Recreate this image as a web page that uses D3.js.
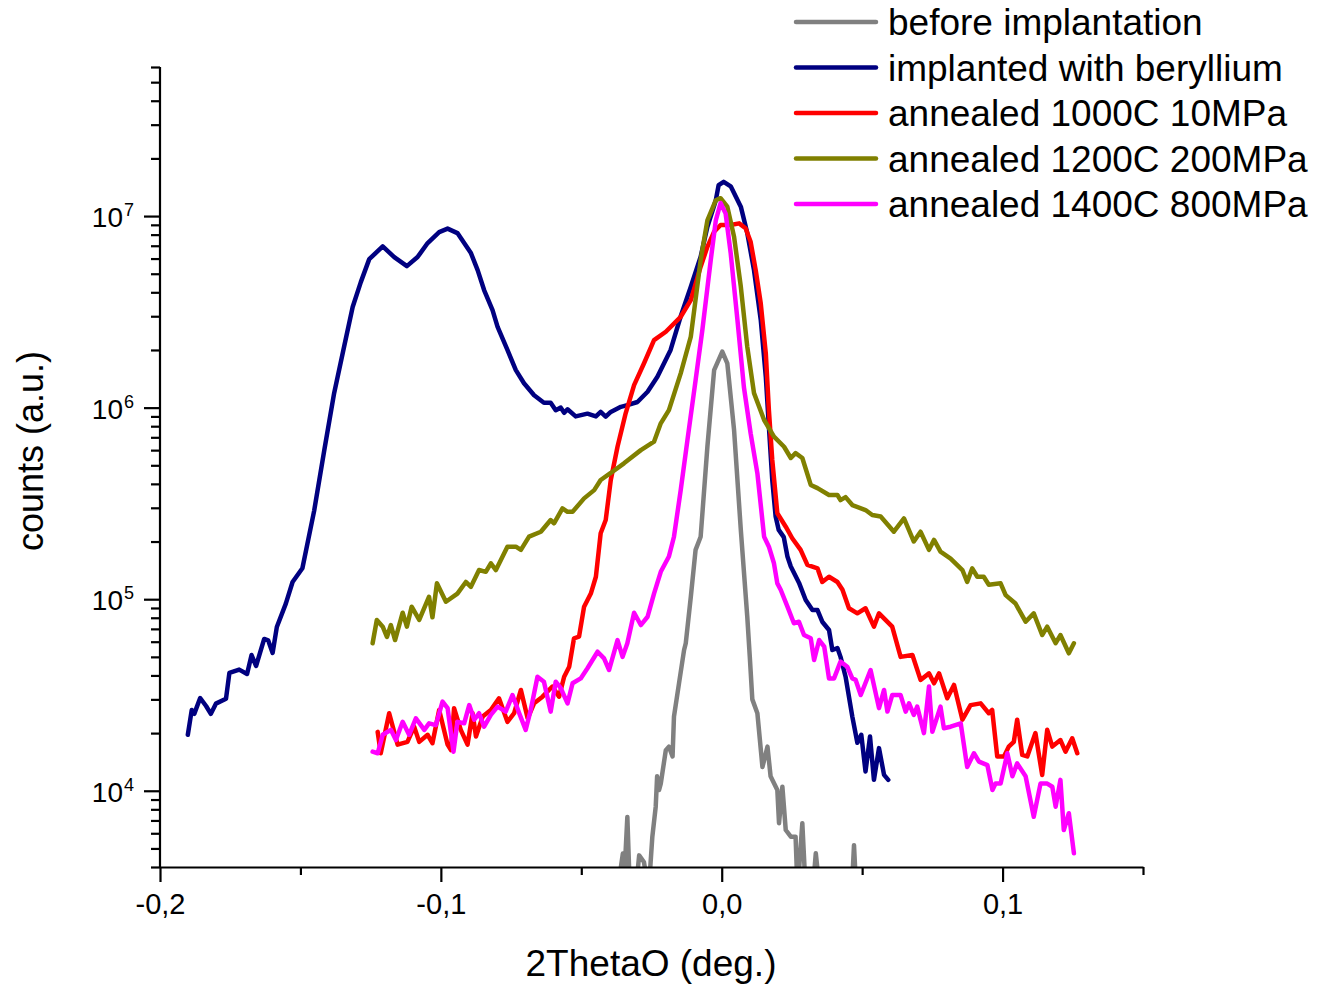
<!DOCTYPE html>
<html>
<head>
<meta charset="utf-8">
<script src="https://cdn.jsdelivr.net/npm/d3@7"></script>
<style>
  body { margin: 0; background: #fff; }
  text { font-family: Arial, "Liberation Sans", sans-serif; fill: #000; }
</style>
</head>
<body>
<div id="chart"></div>
<script>
// series: [2ThetaO (deg.), counts]
const beforeImpl = [
  [-0.0370, 2000], [-0.0359, 4000], [-0.0352, 4700], [-0.0345, 4000], [-0.0336, 7300], [-0.0327, 3000],
  [-0.0306, 3000], [-0.0294, 4600], [-0.0277, 4250], [-0.0260, 3000], [-0.0247, 5760], [-0.0235, 8260],
  [-0.0230, 11900], [-0.0223, 10100], [-0.0217, 10900], [-0.0199, 16300], [-0.0188, 17000], [-0.0175, 15100],
  [-0.0170, 24400], [-0.0152, 36400], [-0.0134, 54300], [-0.0128, 58900], [-0.0110, 1.03e5], [-0.0093, 1.81e5],
  [-0.0075, 2.12e5], [-0.0051, 6.25e5], [-0.0027, 1.57e6], [0.0002, 1.96e6], [0.0020, 1.7e6], [0.0044, 7.64e5],
  [0.0068, 2.3e5], [0.0091, 81000], [0.0100, 50000], [0.0109, 30000], [0.0127, 25400], [0.0145, 13300],
  [0.0163, 17000], [0.0174, 11900], [0.0198, 10100], [0.0204, 6770], [0.0216, 10500], [0.0228, 6240],
  [0.0246, 5760], [0.0263, 5760], [0.0270, 3000], [0.0287, 6770], [0.0299, 3000], [0.0324, 3000],
  [0.0335, 4720], [0.0349, 3000], [0.0463, 3000], [0.0471, 5200], [0.0479, 3000], [0.0600, 3000]
]

const implanted = [
  [-0.1901, 19600], [-0.1887, 26400], [-0.1878, 25200], [-0.1857, 30500], [-0.1836, 27700], [-0.1819, 25200],
  [-0.1801, 28500], [-0.1765, 30200], [-0.1753, 41200], [-0.1718, 42900], [-0.1690, 40700], [-0.1674, 51100],
  [-0.1658, 44800], [-0.1629, 62000], [-0.1615, 61000], [-0.1599, 52400], [-0.1584, 71600], [-0.1552, 94800],
  [-0.1528, 1.23e5], [-0.1493, 1.45e5], [-0.1451, 2.9e5], [-0.1415, 6.0e5], [-0.1380, 1.19e6], [-0.1344, 2.1e6],
  [-0.1314, 3.35e6], [-0.1285, 4.52e6], [-0.1255, 5.96e6], [-0.1207, 6.94e6], [-0.1166, 6.11e6], [-0.1121, 5.48e6],
  [-0.1083, 6.11e6], [-0.1047, 7.23e6], [-0.1006, 8.25e6], [-0.0976, 8.6e6], [-0.0941, 8.15e6], [-0.0893, 6.41e6],
  [-0.0869, 5.22e6], [-0.0846, 4.11e6], [-0.0816, 3.23e6], [-0.0798, 2.64e6], [-0.0763, 2.0e6], [-0.0733, 1.57e6],
  [-0.0704, 1.34e6], [-0.0668, 1.16e6], [-0.0633, 1.06e6], [-0.0609, 1.06e6], [-0.0591, 9.7e5], [-0.0573, 1.0e6],
  [-0.0561, 9.4e5], [-0.0549, 9.8e5], [-0.0520, 9.0e5], [-0.0478, 9.3e5], [-0.0448, 9.0e5], [-0.0431, 9.5e5],
  [-0.0413, 8.97e5], [-0.0395, 9.5e5], [-0.0359, 1.01e6], [-0.0336, 1.03e6], [-0.0300, 1.07e6], [-0.0264, 1.21e6],
  [-0.0229, 1.45e6], [-0.0182, 2.0e6], [-0.0146, 3.0e6], [-0.0110, 4.28e6], [-0.0075, 6.13e6], [-0.0051, 8.8e6],
  [-0.0021, 1.21e7], [-0.0011, 1.45e7], [0.0007, 1.51e7], [0.0032, 1.43e7], [0.0068, 1.12e7], [0.0091, 8.15e6],
  [0.0115, 5.22e6], [0.0139, 2.87e6], [0.0157, 1.45e6], [0.0168, 7.95e5], [0.0180, 4.19e5], [0.0192, 2.7e5],
  [0.0203, 2.3e5], [0.0221, 2.11e5], [0.0234, 1.67e5], [0.0246, 1.48e5], [0.0275, 1.22e5], [0.0299, 99000],
  [0.0323, 87800], [0.0341, 87800], [0.0358, 76300], [0.0382, 69100], [0.0394, 54300], [0.0412, 55600],
  [0.0423, 50000], [0.0441, 39400], [0.0465, 24400], [0.0483, 17800], [0.0497, 19600], [0.0512, 12600],
  [0.0528, 19200], [0.0542, 11400], [0.0560, 16700], [0.0578, 12100], [0.0593, 11400]
]

const annealed1000 = [
  [-0.1225, 20300], [-0.1214, 15700], [-0.1184, 25400], [-0.1154, 17400], [-0.1119, 18000], [-0.1095, 21600],
  [-0.1077, 18000], [-0.1047, 19600], [-0.1030, 17700], [-0.1006, 26400], [-0.0976, 17400], [-0.0964, 16300],
  [-0.0953, 27000], [-0.0929, 20800], [-0.0905, 17400], [-0.0887, 25400], [-0.0875, 19200], [-0.0851, 24400],
  [-0.0822, 26400], [-0.0793, 30400], [-0.0763, 22900], [-0.0739, 25400], [-0.0715, 33600], [-0.0691, 23900],
  [-0.0668, 28600], [-0.0638, 31000], [-0.0603, 35000], [-0.0579, 31000], [-0.0561, 39400], [-0.0543, 44400],
  [-0.0526, 62500], [-0.0508, 63700], [-0.0490, 91400], [-0.0466, 1.07e5], [-0.0448, 1.31e5], [-0.0431, 2.21e5],
  [-0.0413, 2.59e5], [-0.0395, 4.19e5], [-0.0371, 6.25e5], [-0.0342, 9.34e5], [-0.0312, 1.31e6], [-0.0277, 1.7e6],
  [-0.0241, 2.25e6], [-0.0199, 2.49e6], [-0.0146, 2.98e6], [-0.0110, 3.64e6], [-0.0075, 5.44e6], [-0.0051, 6.91e6],
  [-0.0027, 8.28e6], [-0.0004, 8.98e6], [0.0032, 8.98e6], [0.0062, 9.16e6], [0.0085, 8.63e6], [0.0103, 7.34e6],
  [0.0121, 5.22e6], [0.0139, 3.5e6], [0.0157, 1.92e6], [0.0168, 9.7e5], [0.0180, 5.33e5], [0.0198, 2.81e5],
  [0.0228, 2.39e5], [0.0251, 2.08e5], [0.0281, 1.81e5], [0.0305, 1.51e5], [0.0341, 1.45e5], [0.0358, 1.23e5],
  [0.0382, 1.31e5], [0.0412, 1.23e5], [0.0430, 1.12e5], [0.0453, 89700], [0.0483, 84400], [0.0512, 89700],
  [0.0542, 71900], [0.0560, 84400], [0.0607, 71900], [0.0637, 50000], [0.0679, 51100], [0.0708, 37900],
  [0.0738, 41000], [0.0756, 36400], [0.0774, 41000], [0.0803, 30400], [0.0827, 35700], [0.0857, 23500],
  [0.0886, 28000], [0.0922, 28600], [0.0951, 25400], [0.0963, 26400], [0.0981, 15100], [0.1005, 15100],
  [0.1022, 17000], [0.1040, 18000], [0.1052, 23500], [0.1070, 15400], [0.1088, 15100], [0.1117, 20000],
  [0.1141, 12100], [0.1159, 20800], [0.1177, 17000], [0.1206, 18400], [0.1224, 16000], [0.1248, 18800],
  [0.1266, 15700]
]

const annealed1200 = [
  [-0.1243, 58900], [-0.1228, 77900], [-0.1207, 71900], [-0.1192, 63500], [-0.1178, 73300], [-0.1163, 61200],
  [-0.1136, 85000], [-0.1121, 71900], [-0.1104, 91400], [-0.1077, 77900], [-0.1042, 1.03e5], [-0.1030, 80400],
  [-0.1014, 1.21e5], [-0.0982, 97000], [-0.0941, 1.07e5], [-0.0911, 1.23e5], [-0.0893, 1.16e5], [-0.0864, 1.42e5],
  [-0.0840, 1.39e5], [-0.0822, 1.54e5], [-0.0804, 1.42e5], [-0.0763, 1.88e5], [-0.0733, 1.88e5], [-0.0715, 1.81e5],
  [-0.0686, 2.12e5], [-0.0644, 2.25e5], [-0.0609, 2.59e5], [-0.0597, 2.49e5], [-0.0567, 2.98e5], [-0.0549, 2.86e5],
  [-0.0531, 2.86e5], [-0.0490, 3.36e5], [-0.0454, 3.71e5], [-0.0431, 4.19e5], [-0.0395, 4.56e5], [-0.0348, 5.12e5],
  [-0.0288, 6.0e5], [-0.0241, 6.64e5], [-0.0217, 8.28e5], [-0.0188, 9.7e5], [-0.0146, 1.51e6], [-0.0110, 2.35e6],
  [-0.0075, 5.9e6], [-0.0051, 9.5e6], [-0.0021, 1.21e7], [-0.0004, 1.24e7], [0.0020, 1.12e7], [0.0044, 7.8e6],
  [0.0068, 4.28e6], [0.0091, 2.08e6], [0.0115, 1.19e6], [0.0151, 8.62e5], [0.0186, 7.05e5], [0.0222, 6.25e5],
  [0.0246, 5.46e5], [0.0263, 5.79e5], [0.0287, 5.46e5], [0.0317, 3.95e5], [0.0341, 3.8e5], [0.0382, 3.5e5],
  [0.0412, 3.5e5], [0.0423, 3.29e5], [0.0441, 3.41e5], [0.0465, 3.1e5], [0.0512, 2.92e5], [0.0536, 2.75e5],
  [0.0566, 2.7e5], [0.0613, 2.25e5], [0.0649, 2.64e5], [0.0684, 2.0e5], [0.0708, 2.25e5], [0.0738, 1.81e5],
  [0.0756, 2.04e5], [0.0779, 1.77e5], [0.0815, 1.63e5], [0.0857, 1.42e5], [0.0874, 1.23e5], [0.0892, 1.45e5],
  [0.0910, 1.31e5], [0.0933, 1.31e5], [0.0951, 1.19e5], [0.0993, 1.21e5], [0.1011, 1.05e5], [0.1046, 95000],
  [0.1082, 76300], [0.1111, 84400], [0.1141, 65000], [0.1159, 71900], [0.1189, 58900], [0.1206, 65000],
  [0.1236, 52200], [0.1254, 58900]
]

const annealed1400 = [
  [-0.1243, 16000], [-0.1225, 15700], [-0.1207, 19600], [-0.1178, 20800], [-0.1160, 18400], [-0.1136, 22900],
  [-0.1113, 19600], [-0.1089, 23900], [-0.1059, 20800], [-0.1042, 22500], [-0.1018, 22000], [-0.0994, 29200],
  [-0.0976, 27000], [-0.0955, 16000], [-0.0941, 22900], [-0.0917, 22500], [-0.0899, 28000], [-0.0881, 23500],
  [-0.0864, 25400], [-0.0846, 21600], [-0.0822, 24900], [-0.0798, 27500], [-0.0769, 25900], [-0.0745, 31600],
  [-0.0721, 25400], [-0.0698, 20800], [-0.0680, 26400], [-0.0656, 39400], [-0.0633, 37100], [-0.0609, 25900],
  [-0.0591, 37100], [-0.0573, 34300], [-0.0549, 28600], [-0.0531, 36400], [-0.0502, 38600], [-0.0478, 43600],
  [-0.0442, 53200], [-0.0419, 49100], [-0.0401, 42700], [-0.0371, 61200], [-0.0353, 50000], [-0.0336, 58900],
  [-0.0312, 85000], [-0.0288, 73300], [-0.0264, 81000], [-0.0241, 1.07e5], [-0.0217, 1.39e5], [-0.0188, 1.67e5],
  [-0.0170, 2.12e5], [-0.0146, 3.71e5], [-0.0122, 6.78e5], [-0.0093, 1.39e6], [-0.0069, 2.54e6], [-0.0039, 5.9e6],
  [-0.0021, 9.5e6], [-0.0004, 1.17e7], [0.0014, 1.03e7], [0.0032, 6.39e6], [0.0056, 2.87e6], [0.0079, 1.28e6],
  [0.0103, 7.34e5], [0.0127, 4.54e5], [0.0151, 2.12e5], [0.0168, 1.88e5], [0.0186, 1.54e5], [0.0198, 1.21e5],
  [0.0210, 1.12e5], [0.0234, 91400], [0.0257, 74900], [0.0275, 76300], [0.0293, 65000], [0.0317, 62500],
  [0.0329, 48200], [0.0347, 61200], [0.0365, 56500], [0.0382, 38600], [0.0400, 38600], [0.0423, 47200],
  [0.0447, 44400], [0.0465, 38600], [0.0477, 37900], [0.0495, 31600], [0.0530, 42700], [0.0560, 27000],
  [0.0578, 33600], [0.0590, 25900], [0.0607, 31600], [0.0637, 31600], [0.0655, 25900], [0.0667, 28600],
  [0.0684, 24900], [0.0696, 27500], [0.0720, 20000], [0.0738, 35000], [0.0750, 20300], [0.0779, 27500],
  [0.0791, 21200], [0.0815, 21600], [0.0851, 22500], [0.0874, 13300], [0.0898, 15700], [0.0916, 14200],
  [0.0946, 13600], [0.0964, 10100], [0.0975, 10900], [0.0993, 10900], [0.1017, 15700], [0.1035, 11900],
  [0.1052, 13900], [0.1082, 11900], [0.1111, 7320], [0.1135, 10900], [0.1159, 10900], [0.1177, 10500],
  [0.1189, 8260], [0.1206, 11400], [0.1218, 6240], [0.1236, 7630], [0.1254, 4720]
]

const seriesNames = ['before implantation', 'implanted with beryllium', 'annealed 1000C 10MPa',
  'annealed 1200C 200MPa', 'annealed 1400C 800MPa']
const seriesColors = ['#808080', '#000080', '#ff0000', '#808000', '#ff00ff']
const seriesData = [beforeImpl, implanted, annealed1000, annealed1200, annealed1400]

const xMajor = [-0.2, -0.1, 0.0, 0.1]
const xMinor = [-0.15, -0.05, 0.05, 0.15]
const yMajor = [1e4, 1e5, 1e6, 1e7]
const yExp = [4, 5, 6, 7]

const width = 1317,
  height = 985,
  plotLeft = 160, plotRight = 1143,
  plotTop = 67, plotBottom = 867

const svg = d3.select('#chart')
  .append('svg')
  .attr('width', width)
  .attr('height', height)
  .style('background', '#fff')

const x = d3.scaleLinear().domain([-0.2, 0.15]).range([plotLeft, plotRight])
const y = d3.scaleLog().domain([4000, 6e7]).range([plotBottom, plotTop])

// minor ticks for the log axis: 2..9 of each decade inside the domain
const yMinor = []
for (let e = 3; e <= 7; e++) {
  for (let k = 2; k <= 9; k++) {
    const v = k * Math.pow(10, e)
    if (v >= 4000 && v <= 6e7) yMinor.push(v)
  }
}

svg.append('clipPath').attr('id', 'plotClip')
  .append('rect')
  .attr('x', plotLeft).attr('y', plotTop)
  .attr('width', plotRight - plotLeft).attr('height', plotBottom - plotTop)

const line = d3.line()
  .x(d => x(d[0]))
  .y(d => y(d[1]))

const plot = svg.append('g').attr('clip-path', 'url(#plotClip)')
seriesData.forEach((data, i) => {
  plot.append('path')
    .datum(data)
    .attr('d', line)
    .attr('fill', 'none')
    .attr('stroke', seriesColors[i])
    .attr('stroke-width', 4.5)
    .attr('stroke-linejoin', 'round')
    .attr('stroke-linecap', 'round')
})

// axes
const styleAxis = g => {
  g.select('.domain').attr('stroke', '#000').attr('stroke-width', 2.2)
  g.selectAll('.tick line').attr('stroke', '#000').attr('stroke-width', 2.2)
}

svg.append('g')
  .attr('transform', `translate(0,${plotBottom})`)
  .call(d3.axisBottom(x).tickValues(xMinor).tickSize(8).tickSizeOuter(0).tickFormat(''))
  .call(styleAxis)

svg.append('g')
  .attr('transform', `translate(0,${plotBottom})`)
  .call(d3.axisBottom(x).tickValues(xMajor).tickSize(15).tickSizeOuter(0)
    .tickFormat(d => d.toFixed(1).replace('.', ',')))
  .call(styleAxis)
  .call(g => g.select('.domain').remove())
  .call(g => g.selectAll('.tick text')
    .attr('y', 26).attr('dy', '0.71em')
    .style('font-size', '29px')
    .style('font-family', 'Arial, "Liberation Sans", sans-serif'))

svg.append('g')
  .attr('transform', `translate(${plotLeft},0)`)
  .call(d3.axisLeft(y).tickValues(yMinor).tickSize(9).tickSizeOuter(0).tickFormat(''))
  .call(styleAxis)
  .call(g => g.select('.domain').attr('d', `M0,${plotBottom}V${plotTop}`))

svg.append('g')
  .attr('transform', `translate(${plotLeft},0)`)
  .call(d3.axisLeft(y).tickValues(yMajor).tickSize(16).tickSizeOuter(0).tickFormat(''))
  .call(styleAxis)
  .call(g => g.select('.domain').remove())

// 10^n labels
yMajor.forEach((v, i) => {
  const ty = y(v)
  svg.append('text')
    .attr('x', 123).attr('y', ty + 11)
    .attr('text-anchor', 'end')
    .style('font-size', '28px')
    .text('10')
  svg.append('text')
    .attr('x', 124).attr('y', ty)
    .style('font-size', '18px')
    .text(yExp[i])
})

// axis titles
svg.append('text')
  .attr('x', 651).attr('y', 976)
  .attr('text-anchor', 'middle')
  .style('font-size', '37px')
  .text('2ThetaO (deg.)')

svg.append('text')
  .attr('transform', 'translate(43,451) rotate(-90)')
  .attr('text-anchor', 'middle')
  .style('font-size', '36px')
  .text('counts (a.u.)')

// legend
const legend = svg.append('g')
seriesNames.forEach((name, i) => {
  const ly = 22 + i * 45.5
  legend.append('line')
    .attr('x1', 796).attr('x2', 876)
    .attr('y1', ly).attr('y2', ly)
    .attr('stroke', seriesColors[i])
    .attr('stroke-width', 4.5)
    .attr('stroke-linecap', 'round')
  legend.append('text')
    .attr('x', 888).attr('y', ly + 13)
    .style('font-size', '37px')
    .text(name)
})
</script>
</body>
</html>
